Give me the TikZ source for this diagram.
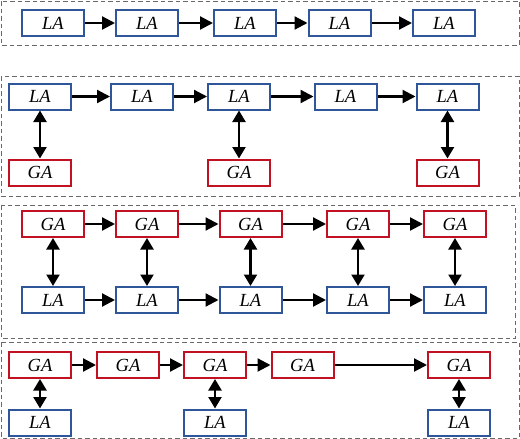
\documentclass[tikz,border=0pt]{standalone}
\usepackage{fontspec}
\setmainfont{Liberation Serif}
\usetikzlibrary{arrows.meta,positioning}
\definecolor{laBlue}{RGB}{46,86,152}
\definecolor{gaRed}{RGB}{192,18,34}
\definecolor{frameGray}{RGB}{105,105,105}
\tikzset{
  agent/.style={draw,line width=2pt,minimum width=62pt,minimum height=26pt,inner sep=0pt,font=\fontsize{18.5}{20}\selectfont\itshape},
  labox/.style={agent,draw=laBlue},
  gabox/.style={agent,draw=gaRed},
  flow/.style={line width=2.2pt,-{Triangle[length=13pt,width=13pt]}},
  link/.style={line width=2.2pt,{Triangle[length=11.5pt,width=13pt]}-{Triangle[length=11.5pt,width=13pt]}},
  panel/.style={draw=frameGray,line width=1pt,dash pattern=on 4.5pt off 3pt}
}

\begin{document}
\begin{tikzpicture}[x=1pt,y=-1pt]
\useasboundingbox (0,0) rectangle (520,439);
% frames
\draw[panel] (1,1) rectangle (519,45);
\draw[panel] (1,76) rectangle (519,196);
\draw[panel] (1,205) rectangle (515,338);
\draw[panel] (1,342) rectangle (519,438);
% first row: LA chain
\node[labox] (a1) at (53,23) {LA};
\node[labox] (a2) at (147,23) {LA};
\node[labox] (a3) at (245,23) {LA};
\node[labox] (a4) at (339.5,23) {LA};
\node[labox] (a5) at (444,23) {LA};
\draw[flow] (a1)--(a2);
\draw[flow] (a2)--(a3);
\draw[flow] (a3)--(a4);
\draw[flow] (a4)--(a5);
% second row: LA chain with some GA
\node[labox] (b1) at (40,96.5) {LA};
\node[labox] (b2) at (142,96.5) {LA};
\node[labox] (b3) at (239,96.5) {LA};
\node[labox] (b4) at (345.5,96.5) {LA};
\node[labox] (b5) at (447.5,96.5) {LA};
\node[gabox] (bg1) at (40,172.5) {GA};
\node[gabox] (bg3) at (239,172.5) {GA};
\node[gabox] (bg5) at (447.5,172.5) {GA};
\draw[flow] (b1)--(b2);
\draw[flow] (b2)--(b3);
\draw[flow] (b3)--(b4);
\draw[flow] (b4)--(b5);
\draw[link] (b1)--(bg1);
\draw[link] (b3)--(bg3);
\draw[link] (b5)--(bg5);
% third row: GA chain over LA chain
\node[gabox] (c1) at (53,224) {GA};
\node[gabox] (c2) at (147,224) {GA};
\node[gabox] (c3) at (250.5,224) {GA};
\node[gabox] (c4) at (358,224) {GA};
\node[gabox] (c5) at (455,224) {GA};
\node[labox] (cl1) at (53,300) {LA};
\node[labox] (cl2) at (147,300) {LA};
\node[labox] (cl3) at (250.5,300) {LA};
\node[labox] (cl4) at (358,300) {LA};
\node[labox] (cl5) at (455,300) {LA};
\draw[flow] (c1)--(c2);
\draw[flow] (c2)--(c3);
\draw[flow] (c3)--(c4);
\draw[flow] (c4)--(c5);
\draw[flow] (cl1)--(cl2);
\draw[flow] (cl2)--(cl3);
\draw[flow] (cl3)--(cl4);
\draw[flow] (cl4)--(cl5);
\draw[link] (c1)--(cl1);
\draw[link] (c2)--(cl2);
\draw[link] (c3)--(cl3);
\draw[link] (c4)--(cl4);
\draw[link] (c5)--(cl5);
% fourth row: GA chain with some LA
\node[gabox] (d1) at (40,365) {GA};
\node[gabox] (d2) at (128,365) {GA};
\node[gabox] (d3) at (215,365) {GA};
\node[gabox] (d4) at (302.5,365) {GA};
\node[gabox] (d5) at (459,365) {GA};
\node[labox] (dl1) at (40,422.5) {LA};
\node[labox] (dl3) at (215,422.5) {LA};
\node[labox] (dl5) at (459,422.5) {LA};
\draw[flow] (d1)--(d2);
\draw[flow] (d2)--(d3);
\draw[flow] (d3)--(d4);
\draw[flow] (d4)--(d5);
\draw[link] (d1)--(dl1);
\draw[link] (d3)--(dl3);
\draw[link] (d5)--(dl5);
\end{tikzpicture}
\end{document}
